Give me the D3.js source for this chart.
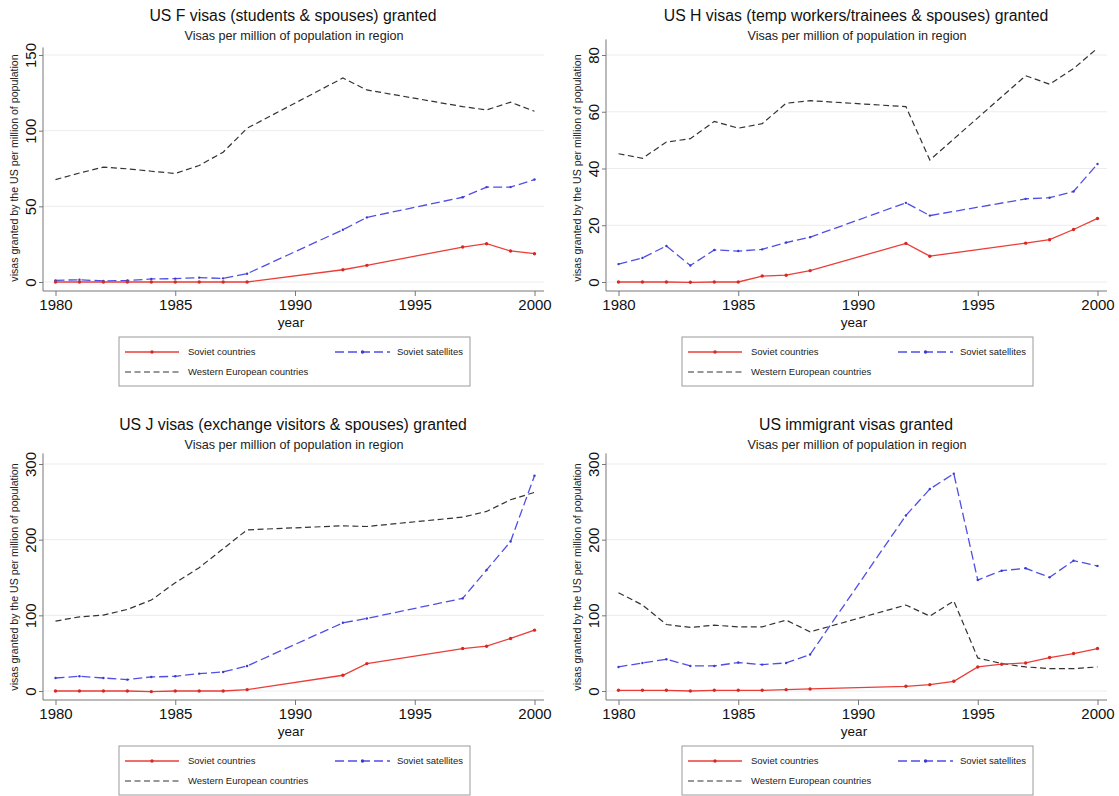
<!DOCTYPE html>
<html>
<head>
  <meta charset="utf-8">
  <script src="https://cdn.jsdelivr.net/npm/d3@7"></script>
  <style>
    body { margin: 0; background: #fff; }
    svg { font-family: "Liberation Sans", Arial, sans-serif; }
  </style>
</head>
<body>
  <svg id="chart" width="1119" height="796"></svg>
  <script>
    // years with data (1989-1991 missing in most series)
    var yearsShort = [1980, 1981, 1982, 1983, 1984, 1985, 1986, 1987, 1988, 1992, 1993, 1997, 1998, 1999, 2000];
    var yearsImm = [1980, 1981, 1982, 1983, 1984, 1985, 1986, 1987, 1988, 1992, 1993, 1994, 1995, 1996, 1997, 1998, 1999, 2000];

    // F visas
    var fSoviet = [0, 0, 0, 0, 0, 0, 0, 0, 0, 8.1, 11, 23.1, 25.3, 20.5, 18.7];
    var fSatellites = [1.1, 1.5, 0.7, 1, 2, 2.2, 2.9, 2.4, 5.5, 34.5, 42.7, 56, 62.7, 62.7, 67.7];
    var fWestern = [67.7, 72, 75.9, 74.8, 73.2, 71.7, 77, 85.8, 101.6, 134.8, 126.9, 115.9, 113.7, 118.8, 112.8];

    // H visas
    var hSoviet = [0, 0, 0, -0.1, 0, 0, 2.1, 2.4, 4, 13.6, 9.1, 13.7, 14.9, 18.5, 22.4];
    var hSatellites = [6.3, 8.5, 12.7, 5.8, 11.3, 10.9, 11.5, 13.9, 15.8, 27.9, 23.4, 29.3, 29.7, 31.9, 41.6];
    var hWestern = [45.2, 43.6, 49.3, 50.5, 56.6, 54.2, 55.8, 63, 63.9, 61.8, 43, 72.7, 69.7, 75.2, 82.4];

    // J visas
    var jSoviet = [0, 0, 0, 0, -0.8, 0, 0, 0, 1.8, 20.8, 36.2, 56.1, 59.2, 69.4, 80.4];
    var jSatellites = [17.2, 19.4, 17.2, 15, 18.6, 19.4, 23, 25.2, 33.1, 90.1, 95.9, 122.4, 160, 197.5, 284.6];
    var jWestern = [92.4, 98, 100.3, 107.8, 120.2, 143, 163, 188, 213, 218.3, 217.4, 229.8, 237.3, 252.8, 262.5];

    // immigrant visas
    var iSoviet = [0.9, 0.9, 0.9, 0, 0.9, 0.9, 0.9, 1.8, 2.7, 6.2, 8.4, 12.8, 31.8, 35.4, 37.1, 44.2, 49.5, 56.1];
    var iSatellites = [31.8, 37.1, 42, 33.1, 33.1, 37.6, 34.9, 37.1, 48.2, 232, 266.9, 287.2, 146.7, 159, 162.2, 150.2, 172.3, 165.3];
    var iWestern = [129.9, 113.6, 87.9, 84, 87, 84.8, 84.8, 93.7, 78.2, 113.6, 99, 118.9, 43.7, 36.2, 31.8, 29.6, 29.6, 31.8];

    var xTicks = [1980, 1985, 1990, 1995, 2000];
    var subtitle = "Visas per million of population in region";
    var yTitle = "visas granted by the US per million of population";
    var legendNames = ["Soviet countries", "Soviet satellites", "Western European countries"];

    var panels = [
      { title: "US F visas (students & spouses) granted", years: yearsShort,
        series: [fSoviet, fSatellites, fWestern], yTicks: [0, 50, 100, 150], yTop: 155, dx: 0, dy: 0 },
      { title: "US H visas (temp workers/trainees & spouses) granted", years: yearsShort,
        series: [hSoviet, hSatellites, hWestern], yTicks: [0, 20, 40, 60, 80], yTop: 85.5, dx: 563, dy: 0 },
      { title: "US J visas (exchange visitors & spouses) granted", years: yearsShort,
        series: [jSoviet, jSatellites, jWestern], yTicks: [0, 100, 200, 300], yTop: 314, dx: 0, dy: 409 },
      { title: "US immigrant visas granted", years: yearsImm,
        series: [iSoviet, iSatellites, iWestern], yTicks: [0, 100, 200, 300], yTop: 314, dx: 563, dy: 409 }
    ];

    // styles for the three series
    var styles = [
      { color: "#ec3d38", dash: null, marker: "#d42a24", width: 1.3 },
      { color: "#4f4fe6", dash: "9,4", marker: "#3a3ad0", width: 1.3 },
      { color: "#333333", dash: "6,3.5", marker: null, width: 1.2 }
    ];

    var svg = d3.select("#chart");
    var axisX0 = 43, plotRight = 544, plotBottom = 291;

    panels.forEach(function(p) {
      var g = svg.append("g").attr("transform", "translate(" + p.dx + "," + p.dy + ")");

      var x = d3.scaleLinear().domain([1980, 2000]).range([55.5, 534.5]);
      var maxTick = p.yTicks[p.yTicks.length - 1];
      var y = d3.scaleLinear().domain([0, maxTick]).range([282, 55]);

      // titles
      g.append("text").attr("x", 293).attr("y", 20.5).attr("text-anchor", "middle")
        .attr("font-size", 15.8).attr("fill", "#111").text(p.title);
      g.append("text").attr("x", 294).attr("y", 39.5).attr("text-anchor", "middle")
        .attr("font-size", 12.6).attr("fill", "#222").text(subtitle);

      // gridlines
      g.selectAll(".grid").data(p.yTicks).enter().append("line")
        .attr("x1", axisX0).attr("x2", plotRight)
        .attr("y1", function(d) { return y(d); }).attr("y2", function(d) { return y(d); })
        .attr("stroke", "#ececec").attr("stroke-width", 1);

      // y axis
      var ya = g.append("g").attr("transform", "translate(" + axisX0 + ",0)")
        .call(d3.axisLeft(y).tickValues(p.yTicks).tickSize(4).tickSizeOuter(0).tickFormat(d3.format("d")));
      ya.select(".domain").remove();
      ya.selectAll("line").attr("stroke", "#777");
      ya.selectAll("text").attr("x", 0).attr("dy", 0).attr("text-anchor", "middle")
        .attr("transform", "translate(-7,0) rotate(-90)")
        .attr("font-size", 15).attr("fill", "#111").attr("font-family", null);
      g.append("line").attr("x1", axisX0).attr("x2", axisX0)
        .attr("y1", y(p.yTop)).attr("y2", plotBottom).attr("stroke", "#777");

      // x axis
      var xa = g.append("g").attr("transform", "translate(0," + plotBottom + ")")
        .call(d3.axisBottom(x).tickValues(xTicks).tickSize(5).tickSizeOuter(0).tickFormat(d3.format("d")));
      xa.select(".domain").remove();
      xa.selectAll("line").attr("stroke", "#777");
      xa.selectAll("text").attr("y", 8).attr("dy", "0.71em")
        .attr("font-size", 15).attr("fill", "#111").attr("font-family", null);
      g.append("line").attr("x1", axisX0).attr("x2", plotRight)
        .attr("y1", plotBottom).attr("y2", plotBottom).attr("stroke", "#777");

      g.append("text").attr("x", 291).attr("y", 327).attr("text-anchor", "middle")
        .attr("font-size", 13.5).attr("fill", "#111").text("year");

      g.append("text").attr("transform", "translate(18,168) rotate(-90)").attr("text-anchor", "middle")
        .attr("font-size", 10.6).attr("fill", "#222").text(yTitle);

      // series, drawn western first so red sits on top
      [2, 1, 0].forEach(function(si) {
        var st = styles[si];
        var pts = p.years.map(function(yr, i) { return [yr, p.series[si][i]]; });
        var line = d3.line().x(function(d) { return x(d[0]); }).y(function(d) { return y(d[1]); });
        g.append("path").datum(pts).attr("d", line)
          .attr("fill", "none").attr("stroke", st.color).attr("stroke-width", st.width)
          .attr("stroke-dasharray", st.dash);
        if (st.marker) {
          g.selectAll(".m" + si).data(pts).enter().append("circle")
            .attr("cx", function(d) { return x(d[0]); }).attr("cy", function(d) { return y(d[1]); })
            .attr("r", si === 0 ? 1.7 : 1.2).attr("fill", st.marker);
        }
      });

      // legend
      var lg = g.append("g");
      lg.append("rect").attr("x", 119).attr("y", 337).attr("width", 351).attr("height", 49)
        .attr("fill", "#fff").attr("stroke", "#9a9a9a").attr("stroke-width", 1);
      var items = [
        { x1: 125, x2: 179, y: 352, tx: 188 },
        { x1: 335, x2: 390, y: 352, tx: 397 },
        { x1: 125, x2: 179, y: 372, tx: 188 }
      ];
      items.forEach(function(it, i) {
        var st = styles[i];
        lg.append("line").attr("x1", it.x1).attr("x2", it.x2).attr("y1", it.y).attr("y2", it.y)
          .attr("stroke", st.color).attr("stroke-width", st.width).attr("stroke-dasharray", st.dash);
        if (st.marker) {
          lg.append("circle").attr("cx", (it.x1 + it.x2) / 2).attr("cy", it.y)
            .attr("r", 1.7).attr("fill", st.marker);
        }
        lg.append("text").attr("x", it.tx).attr("y", it.y + 3.3)
          .attr("font-size", 9.5).attr("fill", "#222").text(legendNames[i]);
      });
    });
  </script>
</body>
</html>
